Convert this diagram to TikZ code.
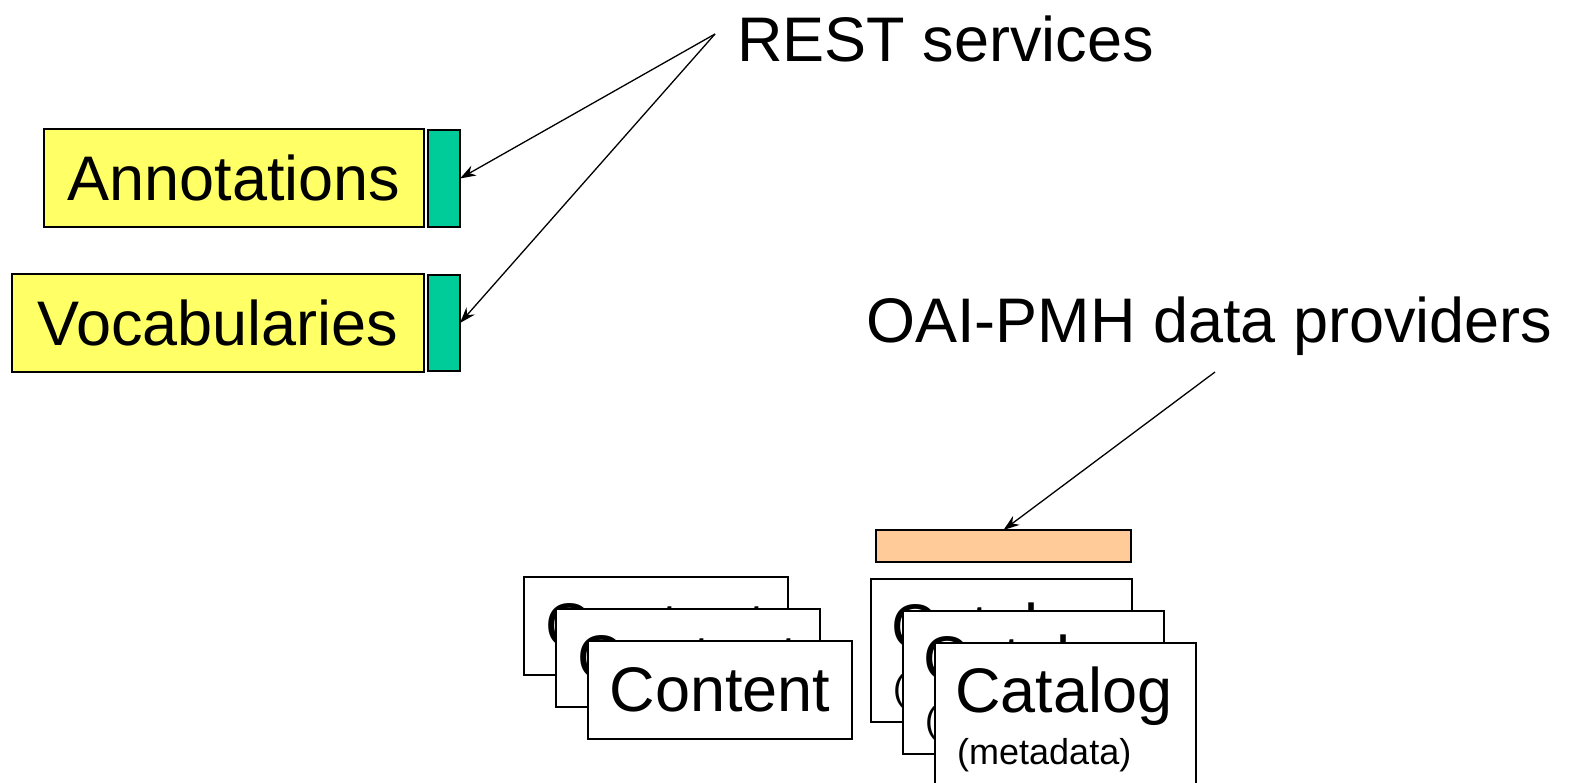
\documentclass[tikz,border=0pt]{standalone}
\usepackage{fontspec}
\setmainfont{Liberation Sans}
\usetikzlibrary{arrows.meta}
\definecolor{yel}{HTML}{FFFF66}
\definecolor{grn}{HTML}{00CC99}
\definecolor{org}{HTML}{FFCC99}
\tikzset{
  boxbase/.style={draw=black, line width=1.6pt, inner sep=0pt, outer sep=0pt},
  ybox/.style={boxbase, fill=yel, font=\fontsize{63}{70}\selectfont},
  gbox/.style={boxbase, fill=grn, minimum width=32pt, minimum height=97pt},
  wbox/.style={boxbase, fill=white, minimum width=264pt, minimum height=98pt, font=\fontsize{63}{70}\selectfont},
  kbox/.style={boxbase, fill=white, minimum width=261pt, minimum height=143pt},
  bigtxt/.style={inner sep=0pt, font=\fontsize{63}{70}\selectfont},
  smalltxt/.style={inner sep=0pt, font=\fontsize{36}{40}\selectfont},
  arr/.style={draw=black, line width=1.3pt, -{Stealth[length=16pt,width=11pt]}}
}
\begin{document}
\begin{tikzpicture}[x=1pt,y=-1pt]
\useasboundingbox (0,0) rectangle (1572,782);
\clip (0,0) rectangle (1572,782);
% left boxes
\node[ybox, minimum width=380pt, minimum height=98pt] (ann) at (234,178) {Annotations};
\node[gbox] (ga) at (444,178.5) {};
\node[ybox, minimum width=412pt, minimum height=98pt] (voc) at (218,323) {Vocabularies};
\node[gbox, minimum height=96pt] (gv) at (444,323) {};
% labels
\node[bigtxt, anchor=west] (rest) at (737,39) {REST services};
\coordinate (restpt) at (715,34);
\node[bigtxt, anchor=west] (oai) at (866,326) {OAI-PMH data providers};
\coordinate (oaipt) at (1215,372);
% content stack
\node[wbox] (c1) at (656,626) {Content};
\node[wbox] (c2) at (688,658) {Content};
\node[wbox] (c3) at (720,690) {Content};
% orange provider
\node[boxbase, fill=org, minimum width=255pt, minimum height=32pt] (or) at (1003.5,546) {};
% catalog stack
\foreach \n/\x/\y in {k1/871/579, k2/903/611, k3/935/643} {
  \node[kbox, anchor=north west] (\n) at (\x,\y) {};
  \node[bigtxt, anchor=west] (\n t) at ([xshift=20pt,yshift=-53pt]\n.north west) {Catalog};
  \node[smalltxt, anchor=west] (\n m) at ([xshift=22pt,yshift=-112pt]\n.north west) {(metadata)};
}
% arrows
\draw[arr] (restpt) -- (ga.east);
\draw[arr] (restpt) -- (gv.east);
\draw[arr] (oaipt) -- (or.north);
\end{tikzpicture}
\end{document}
